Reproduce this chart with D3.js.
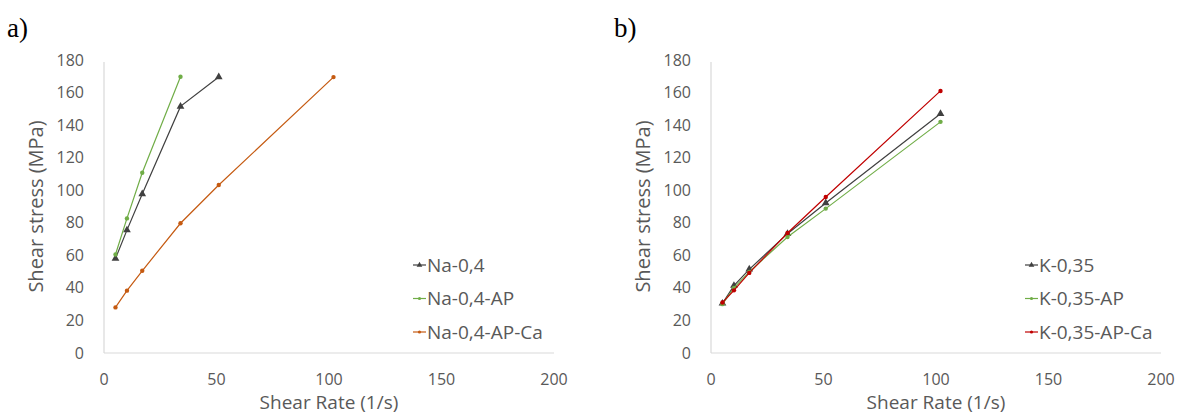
<!DOCTYPE html>
<html>
<head>
<meta charset="utf-8">
<script src="https://cdn.jsdelivr.net/npm/d3@7"></script>
<style>
  body { margin: 0; background: #fff; }
  svg { display: block; }
</style>
</head>
<body>
<div id="chart"></div>
<script>
// shear rates (1/s)
const ratesNa = [5.1, 10.2, 17, 34, 51, 102];
const ratesK = [5.1, 10.2, 17, 34, 51, 102];

// panel a) shear stress (MPa)
const na04 = [58, 75.5, 97.7, 151.5, 169.5];
const na04AP = [60.5, 82.7, 110.7, 169.7];
const na04APCa = [28, 38.3, 50.5, 79.7, 103.2, 169.5];

// panel b) shear stress (MPa)
const k035 = [30.5, 41.4, 51.4, 73.3, 92.1, 147];
const k035AP = [30, 40, 49.8, 71.3, 88.7, 142];
const k035APCa = [31, 38.5, 49.2, 73.7, 95.8, 161];

const xTicks = [0, 50, 100, 150, 200];
const yTicks = [0, 20, 40, 60, 80, 100, 120, 140, 160, 180];

const panels = [
  {
    tag: 'a)', left: 0, rates: ratesNa,
    series: [
      { name: 'Na-0,4', values: na04, color: '#404040', marker: 'triangle' },
      { name: 'Na-0,4-AP', values: na04AP, color: '#70AD47', marker: 'circle' },
      { name: 'Na-0,4-AP-Ca', values: na04APCa, color: '#C55A11', marker: 'circle' }
    ]
  },
  {
    tag: 'b)', left: 607, rates: ratesK,
    series: [
      { name: 'K-0,35', values: k035, color: '#404040', marker: 'triangle' },
      { name: 'K-0,35-AP', values: k035AP, color: '#70AD47', marker: 'circle' },
      { name: 'K-0,35-AP-Ca', values: k035APCa, color: '#C00000', marker: 'circle' }
    ]
  }
];

const W = 1184, H = 416;
const font = "'Open Sans', 'Liberation Sans', sans-serif";

const svg = d3.select('#chart').append('svg')
  .attr('width', W).attr('height', H);

panels.forEach((p) => {
  const g = svg.append('g').attr('transform', `translate(${p.left},0)`);
  const x = d3.scaleLinear().domain([0, 200]).range([104, 554]);
  const y = d3.scaleLinear().domain([0, 180]).range([353, 60]);

  // panel tag
  g.append('text')
    .attr('x', 7)
    .attr('y', 37)
    .attr('font-family', "'Liberation Serif', 'DejaVu Serif', serif")
    .attr('font-size', '27px')
    .attr('fill', '#000')
    .text(p.tag);

  // axis lines
  g.append('line')
    .attr('x1', x(0)).attr('x2', x(200))
    .attr('y1', y(0)).attr('y2', y(0))
    .attr('stroke', '#d9d9d9').attr('stroke-width', 1.2);
  g.append('line')
    .attr('x1', x(0)).attr('x2', x(0))
    .attr('y1', y(0)).attr('y2', y(180) + 2)
    .attr('stroke', '#d9d9d9').attr('stroke-width', 1.2);

  // tick labels
  g.selectAll('.ytick')
    .data(yTicks)
    .enter()
    .append('text')
    .attr('x', x(0) - 20)
    .attr('y', (d) => y(d))
    .attr('dy', '0.35em')
    .attr('text-anchor', 'end')
    .attr('font-family', font)
    .attr('font-size', '16px')
    .attr('fill', '#595959')
    .text((d) => d);

  g.selectAll('.xtick')
    .data(xTicks)
    .enter()
    .append('text')
    .attr('x', (d) => x(d))
    .attr('y', 379)
    .attr('dy', '0.35em')
    .attr('text-anchor', 'middle')
    .attr('font-family', font)
    .attr('font-size', '16px')
    .attr('fill', '#595959')
    .text((d) => d);

  // axis titles
  g.append('text')
    .attr('x', (x(0) + x(200)) / 2)
    .attr('y', 402)
    .attr('dy', '0.35em')
    .attr('text-anchor', 'middle')
    .attr('font-family', font)
    .attr('font-size', '19px')
    .attr('fill', '#595959')
    .text('Shear Rate (1/s)');

  g.append('text')
    .attr('transform', `translate(36,${y(90)}) rotate(-90)`)
    .attr('dy', '0.35em')
    .attr('text-anchor', 'middle')
    .attr('font-family', font)
    .attr('font-size', '20px')
    .attr('fill', '#595959')
    .text('Shear stress (MPa)');

  const line = d3.line()
    .x((d) => x(d[0]))
    .y((d) => y(d[1]));

  const triangle = d3.symbol().type(d3.symbolTriangle).size(26);

  p.series.forEach((s) => {
    const pts = s.values.map((v, i) => [p.rates[i], v]);
    g.append('path')
      .attr('d', line(pts))
      .attr('fill', 'none')
      .attr('stroke', s.color)
      .attr('stroke-width', 1.2);

    if (s.marker === 'triangle') {
      g.selectAll(null)
        .data(pts)
        .enter()
        .append('path')
        .attr('d', triangle)
        .attr('transform', (d) => `translate(${x(d[0])},${y(d[1])})`)
        .attr('fill', s.color);
    } else {
      g.selectAll(null)
        .data(pts)
        .enter()
        .append('circle')
        .attr('cx', (d) => x(d[0]))
        .attr('cy', (d) => y(d[1]))
        .attr('r', 2.2)
        .attr('fill', s.color);
    }
  });

  // legend
  const legX = p.left === 0 ? 413 : 418;
  const leg = g.selectAll('.leg')
    .data(p.series)
    .enter()
    .append('g')
    .attr('transform', (d, i) => `translate(${legX},${265 + i * 33.5})`);

  leg.append('line')
    .attr('x1', 0).attr('x2', 13)
    .attr('stroke', (d) => d.color)
    .attr('stroke-width', 1.2);

  leg.each(function (d) {
    const el = d3.select(this);
    if (d.marker === 'triangle') {
      el.append('path')
        .attr('d', d3.symbol().type(d3.symbolTriangle).size(14))
        .attr('transform', 'translate(6.5,0)')
        .attr('fill', d.color);
    } else {
      el.append('circle')
        .attr('cx', 6.5).attr('r', 1.6)
        .attr('fill', d.color);
    }
  });

  leg.append('text')
    .attr('x', 14)
    .attr('dy', '0.35em')
    .attr('font-family', font)
    .attr('font-size', '19px')
    .attr('fill', '#595959')
    .text((d) => d.name);
});
</script>
</body>
</html>
